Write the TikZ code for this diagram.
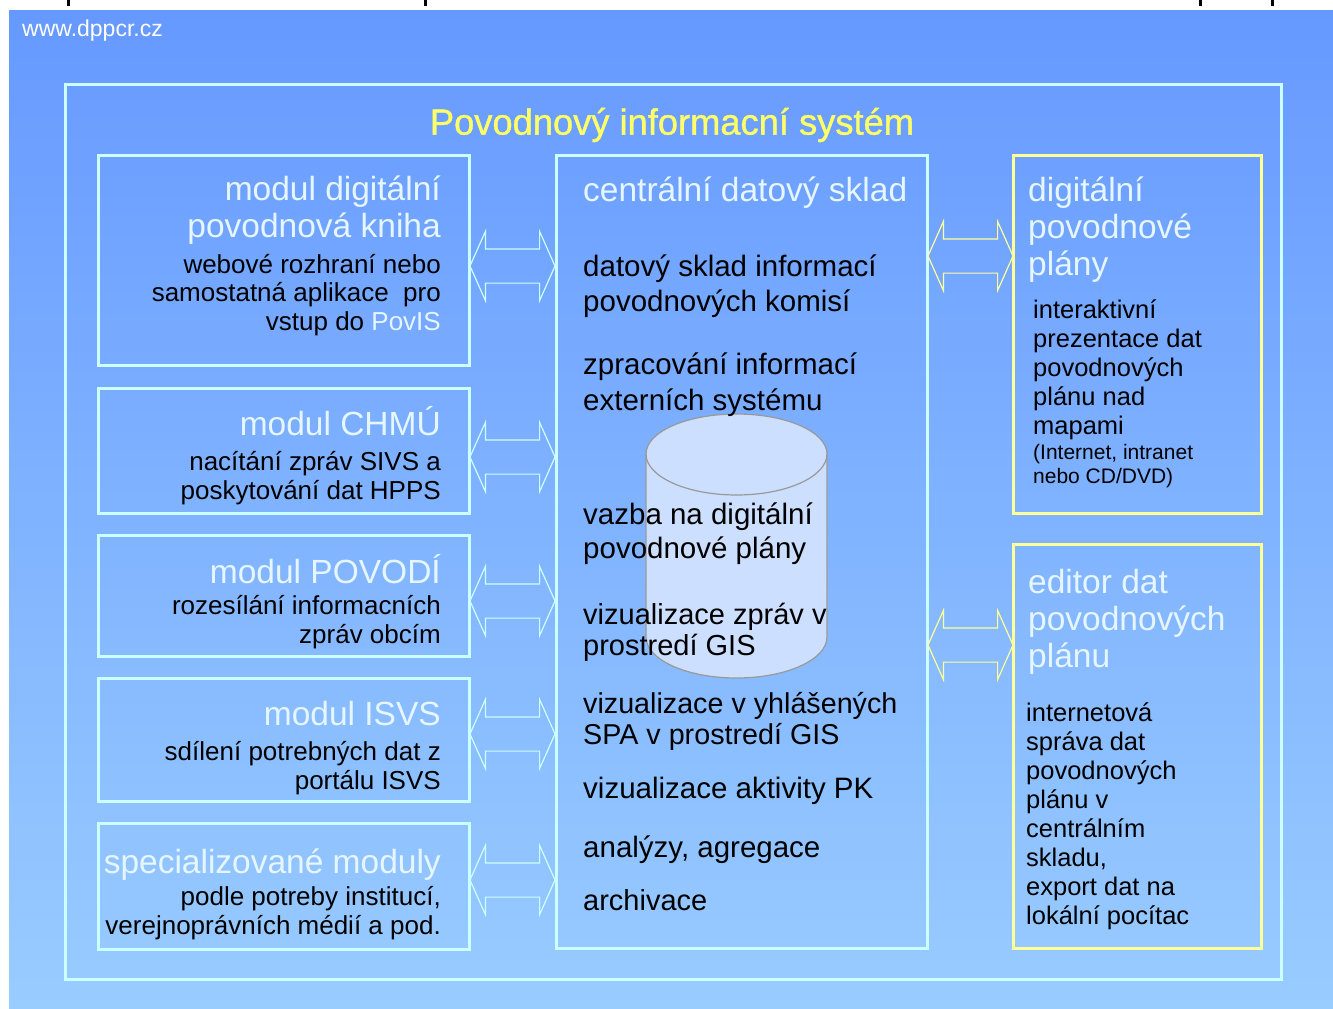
\documentclass[tikz,border=0pt]{standalone}
\usepackage{fontspec}
\setmainfont{Liberation Sans}
\usetikzlibrary{positioning,arrows}
\usetikzlibrary{shapes}
\usetikzlibrary{shapes.arrows}
\usepackage{xcolor}
\definecolor{bgtop}{HTML}{6699FF}
\definecolor{bgbottom}{HTML}{99CCFF}
\definecolor{framecyan}{HTML}{CCFFFF}
\definecolor{frameyellow}{HTML}{FFFF99}
\definecolor{headtext}{HTML}{E6F6FF}
\definecolor{titletext}{HTML}{FFFF66}
\definecolor{dbfill}{HTML}{CCDFFF}
\definecolor{dbline}{HTML}{999999}

\begin{document}
\begin{tikzpicture}[x=1pt,y=-1pt]
	\useasboundingbox (0,0) rectangle (1333,1009);
	\tikzstyle{panel}=[draw=framecyan, line width=3pt, rectangle, inner sep=0pt, outer sep=0pt]
	\tikzstyle{ypanel}=[panel, draw=frameyellow]
	\tikzstyle{harrow}=[double arrow, draw=framecyan, line width=1.2pt, minimum height=85pt, minimum width=68pt, double arrow head extend=17.5pt, inner xsep=0pt, inner ysep=16.5pt, double arrow tip angle=132]
	\tikzstyle{yarrow}=[harrow, draw=frameyellow]
	\tikzstyle{head}=[text=headtext, inner sep=0pt, font=\fontsize{33.5}{37}\selectfont]
	\tikzstyle{rhead}=[head, anchor=east, align=right]
	\tikzstyle{lhead}=[head, anchor=west, align=left]
	\tikzstyle{rbody}=[inner sep=0pt, anchor=east, align=right, font=\fontsize{26}{28.5}\selectfont]
	\tikzstyle{lbody}=[inner sep=0pt, anchor=west, align=left, font=\fontsize{25.5}{29}\selectfont]
	\tikzstyle{cbody}=[inner sep=0pt, anchor=west, align=left, font=\fontsize{29.5}{33}\selectfont]
	\tikzstyle{dbshape}=[fill=dbfill, draw=dbline, line width=1.2pt]
	% background and the cut off text above it
	\shade [top color=bgtop, bottom color=bgbottom] (9,10) rectangle (1333,1008);
	\foreach \cutx in {68,425,1200,1272}
		\fill (\cutx-1.5,0) rectangle (\cutx+1.5,6);
	\draw (22,31) node (web) [inner sep=0pt, anchor=west, text=white, font=\fontsize{23}{26}\selectfont] {www.dppcr.cz};
	% frames
	\draw (673,531.5) node (outer) [panel, minimum width=1216pt, minimum height=895pt] {};
	\draw (672,125) node (title) [inner sep=0pt, text=titletext, font=\fontsize{36.3}{40}\selectfont\addfontfeature{FakeBold=1}] {Povodnový informacní systém};
	\draw (283.5,260) node (kniha) [panel, minimum width=371pt, minimum height=210pt] {};
	\draw (283.5,450.5) node (chmu) [panel, minimum width=371pt, minimum height=125pt] {};
	\draw (283.5,595.5) node (povodi) [panel, minimum width=371pt, minimum height=121pt] {};
	\draw (283.5,739.5) node (isvs) [panel, minimum width=371pt, minimum height=123pt] {};
	\draw (283.5,886) node (special) [panel, minimum width=371pt, minimum height=126pt] {};
	\draw (741.5,551.5) node (sklad) [panel, minimum width=371pt, minimum height=793pt] {};
	\draw (1137,334) node (plany) [ypanel, minimum width=248pt, minimum height=358pt] {};
	\draw (1137,746) node (editor) [ypanel, minimum width=248pt, minimum height=404pt] {};
	% block arrows
	\draw (512.5,266) node (a1) [harrow] {};
	\draw (512.5,457) node (a2) [harrow] {};
	\draw (512.5,601) node (a3) [harrow] {};
	\draw (512.5,734) node (a4) [harrow] {};
	\draw (512.5,880) node (a5) [harrow] {};
	\draw (970.5,256) node (a6) [yarrow] {};
	\draw (970.5,645) node (a7) [yarrow] {};
	% database
	\draw [dbshape] (646,454) -- (646,637) arc[start angle=180, end angle=360, x radius=90.5pt, y radius=41pt] -- (827,454) arc[start angle=0, end angle=180, x radius=90.5pt, y radius=40pt] -- cycle;
	\draw [dbshape, fill=none] (646,454) arc[start angle=180, end angle=360, x radius=90.5pt, y radius=41pt];
	% left modules
	\draw (441,210.5) node (t1) [rhead] {modul digitální\\povodnová kniha};
	\draw (441,295) node (b1) [rbody] {webové rozhraní nebo\\samostatná aplikace\ \ pro\\vstup do {\color{headtext}PovIS}};
	\draw (441,421) node (t2) [rhead] {modul CHMÚ};
	\draw (441,478) node (b2) [rbody] {nacítání zpráv SIVS a\\poskytování dat HPPS};
	\draw (441,569) node (t3) [rhead] {modul POVODÍ};
	\draw (441,622) node (b3) [rbody] {rozesílání informacních\\zpráv obcím};
	\draw (441,714) node (t4) [rhead] {modul ISVS};
	\draw (441,768) node (b4) [rbody] {sdílení potrebných dat z\\portálu ISVS};
	\draw (441,865) node (t5) [rhead] {specializované moduly};
	\draw (441,913) node (b5) [rbody] {podle potreby institucí,\\verejnoprávních médií a pod.};
	% central store
	\draw (583,193) node (c0) [lhead] {centrální datový sklad};
	\draw (583,286) node (c1) [cbody] {datový sklad informací\\[2pt]povodnových komisí};
	\draw (583,384.5) node (c2) [cbody] {zpracování informací\\[3pt]externích systému};
	\draw (583,533.5) node (c3) [cbody] {vazba na digitální\\[1pt]povodnové plány};
	\draw (583,632) node (c4) [cbody, font=\fontsize{29}{33}\selectfont] {vizualizace zpráv v\\[-2pt]prostredí GIS};
	\draw (583,721) node (c5) [cbody, font=\fontsize{28.7}{33}\selectfont] {vizualizace v yhlášených\\[-2pt]SPA v prostredí GIS};
	\draw (583,791) node (c6) [cbody] {vizualizace aktivity PK};
	\draw (583,850) node (c7) [cbody] {analýzy, agregace};
	\draw (583,900) node (c8) [cbody, font=\fontsize{29}{33}\selectfont] {archivace};
	% right panels
	\draw (1028,229.5) node (r1) [lhead] {digitální\\povodnové\\plány};
	\draw (1033,370) node (r2) [lbody] {interaktivní\\prezentace dat\\povodnových\\plánu nad\\mapami};
	\draw (1033,466) node (r3) [lbody, font=\fontsize{21}{24}\selectfont] {(Internet, intranet\\nebo CD/DVD)};
	\draw (1028,622) node (r4) [lhead] {editor dat\\povodnových\\plánu};
	\draw (1026,816) node (r5) [lbody] {internetová\\správa dat\\povodnových\\plánu v\\centrálním\\skladu,\\export dat na\\lokální pocítac};
\end{tikzpicture}
\end{document}
